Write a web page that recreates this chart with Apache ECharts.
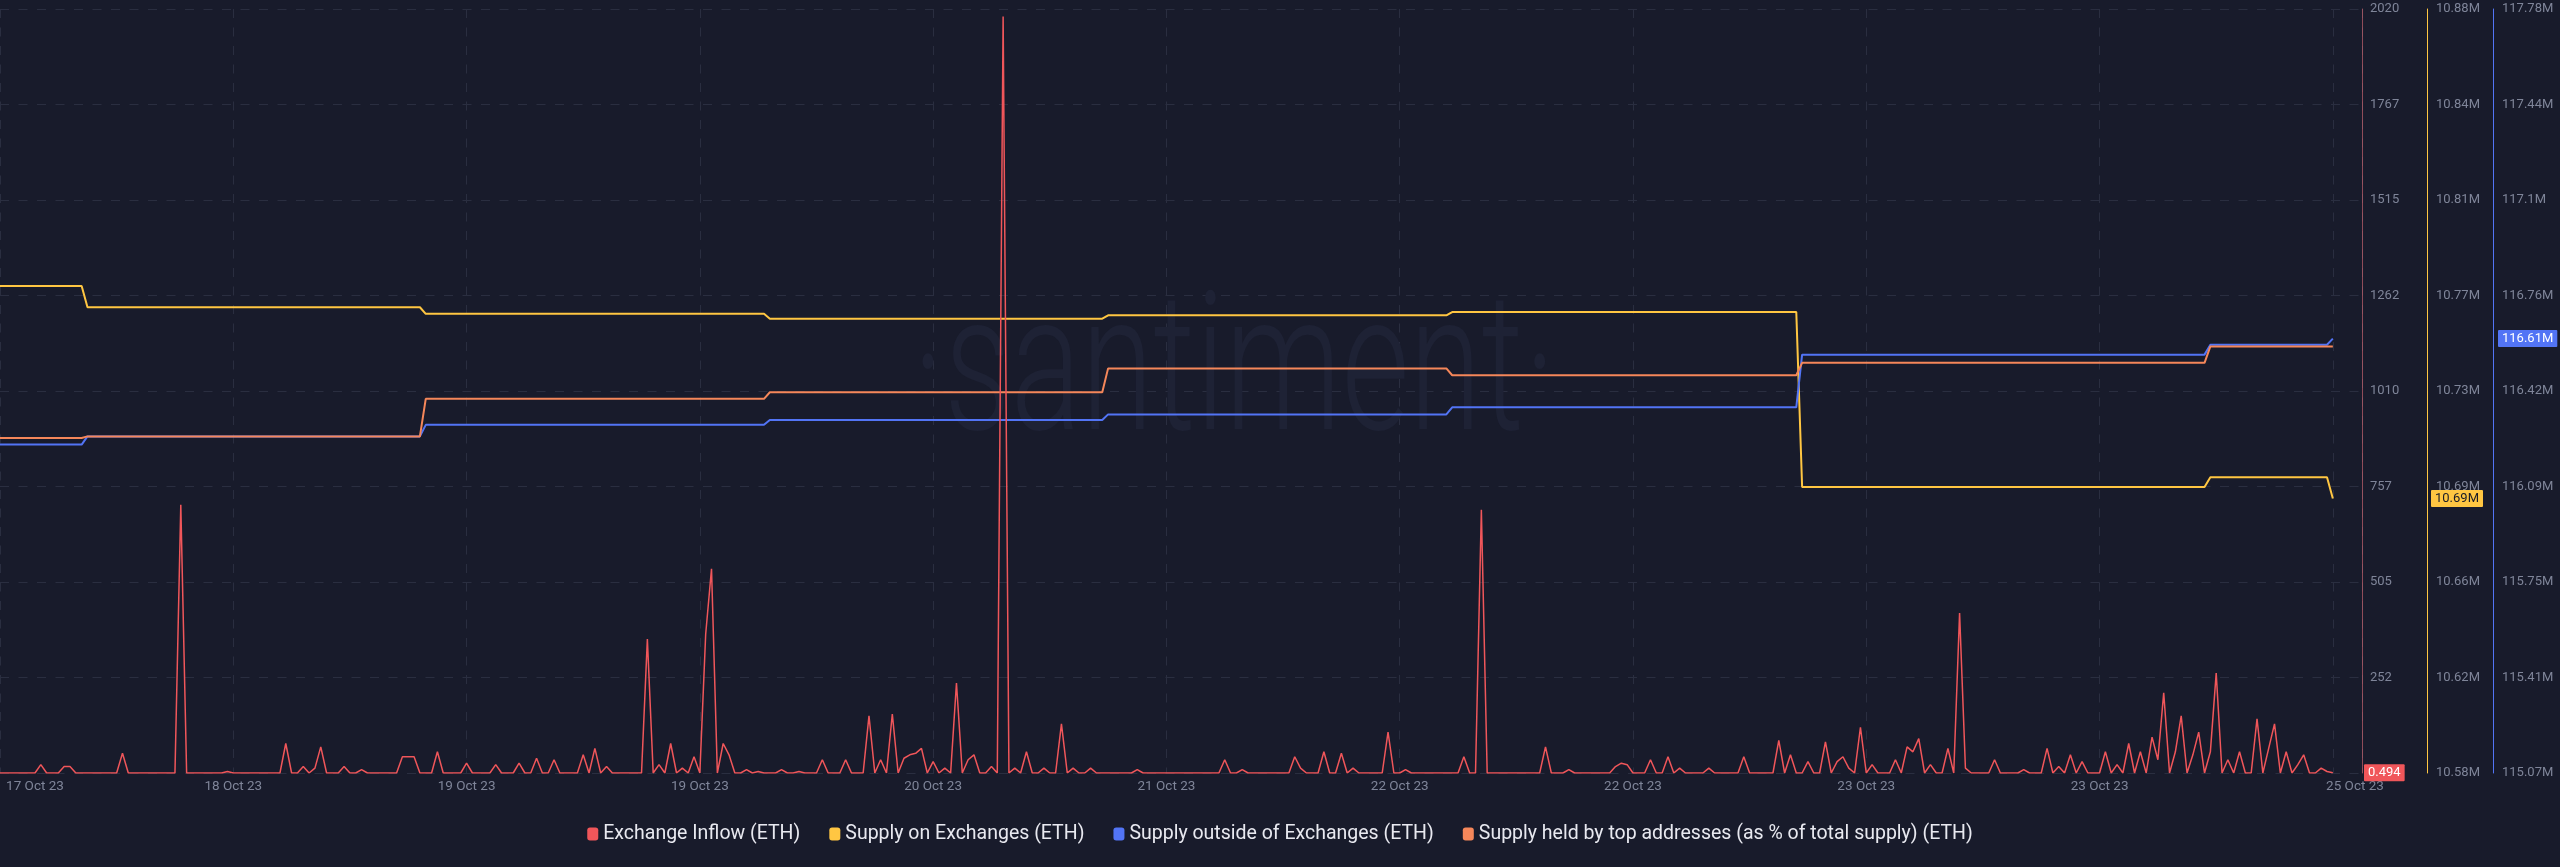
<!DOCTYPE html>
<html><head><meta charset="utf-8">
<script src="https://cdn.jsdelivr.net/npm/echarts@6/dist/echarts.min.js"></script>
<style>html,body{margin:0;padding:0;background:#181b2b;}#c{width:2560px;height:867px;}</style>
</head><body><div id="c"></div>
<script>
// x tick labels (Santiment style, 10 equal intervals)
const xTickLabels = ['17 Oct 23','18 Oct 23','19 Oct 23','19 Oct 23','20 Oct 23','21 Oct 23','22 Oct 23','22 Oct 23','23 Oct 23','23 Oct 23','25 Oct 23'];

const seriesNames = ['Exchange Inflow (ETH)','Supply on Exchanges (ETH)','Supply outside of Exchanges (ETH)','Supply held by top addresses (as % of total supply) (ETH)'];

// Exchange Inflow (ETH), one value per time step (index 0..400)
const exchangeInflow = [
0,0,0,0,0,0,0,22,0,0,0,17,17,0,0,0,0,0,0,0,
0,52,0,0,0,0,0,0,0,0,0,709,0,0,0,0,0,0,0,4,
0,0,0,0,0,0,0,0,0,78,0,0,17,0,13,69,0,0,0,17,
0,0,9,0,0,0,0,0,0,43,43,43,0,0,0,56,0,0,0,0,
26,0,0,0,0,22,0,0,0,26,0,0,39,0,0,35,0,0,0,0,
48,0,65,0,17,0,0,0,0,0,0,354,0,22,0,78,0,13,0,43,
0,367,540,0,78,48,0,0,9,0,4,0,0,0,9,0,0,4,0,0,
0,35,0,0,0,35,0,0,0,151,0,35,0,156,0,39,48,52,65,0,
30,0,13,0,238,0,35,48,0,0,17,0,2000,0,13,0,56,0,0,13,
0,0,130,0,13,0,0,13,0,0,0,0,0,0,0,9,0,0,0,0,
0,0,0,0,0,0,0,0,0,0,35,0,0,9,0,0,0,0,0,0,
0,0,43,13,0,0,0,56,0,0,52,0,13,0,0,0,0,0,108,0,
0,9,0,0,0,0,0,0,0,0,0,43,0,0,696,0,0,0,0,0,
0,0,0,0,0,69,0,0,0,9,0,0,0,0,0,0,0,17,26,22,
0,0,0,35,0,0,43,0,13,0,0,0,0,13,0,0,0,0,0,43,
0,0,0,0,0,86,0,48,0,0,30,0,0,82,0,30,43,13,0,121,
0,22,0,0,0,35,0,69,56,91,0,22,0,0,65,0,423,13,0,0,
0,0,35,0,0,0,0,9,0,0,0,65,0,17,0,48,0,30,0,0,
0,56,0,22,0,78,0,56,0,95,35,212,0,56,151,0,48,108,0,56,
264,0,35,0,56,0,0,143,0,65,130,0,56,0,22,48,0,0,13,4,
0.494
];

// Step series, corner points [time index, value]
const supplyOnExchanges = [[0,10771200],[14,10771200],[15,10762900],[72,10762900],[73,10760300],[131,10760300],[132,10758400],[189,10758400],[190,10759700],[248,10759700],[249,10761000],[308,10761000],[309,10692300],[378,10692300],[379,10696100],[399,10696100],[400,10687800]];
const supplyOutsideExchanges = [[0,116234000],[14,116234000],[15,116263000],[72,116263000],[73,116304000],[131,116304000],[132,116321000],[189,116321000],[190,116341000],[248,116341000],[249,116366000],[308,116366000],[309,116553000],[378,116553000],[379,116588000],[399,116588000],[400,116610000]];
const topHoldersPct = [[0,38.9385],[14,38.9385],[15,38.9406],[72,38.9406],[73,38.9898],[131,38.9898],[132,38.9984],[189,38.9984],[190,39.0296],[248,39.0296],[249,39.0206],[308,39.0206],[309,39.0369],[378,39.0369],[379,39.0583],[400,39.0583]];

const C = {red:'#f0565a', yellow:'#ffc642', blue:'#5274f5', orange:'#f5875a', label:'#7f8599', grid:'#2a2e40', bg:'#181b2b'};
const fmtM = v => parseFloat((Math.round(v/1e4)/100).toFixed(2)) + 'M';
const lastVal = a => a[a.length-1][1];

const chart = echarts.init(document.getElementById('c'), null, {renderer:'canvas'});
const step = 40;
const xLabelPos = xTickLabels.map((_, i) => i*step);
xLabelPos[0] = 6; xLabelPos[xLabelPos.length-1] = 403.8;

const option = {
  backgroundColor: C.bg,
  animation:false,
  textStyle:{fontFamily:'Roboto'},
  grid:{left:0, right:198, top:9, bottom:94, containLabel:false},
  legend:{bottom:18, left:'center', itemWidth:11, itemHeight:13, itemGap:29, icon:'roundRect',
    textStyle:{color:'#e8e9f0', fontSize:19.5, fontFamily:'Roboto'}, data:seriesNames},
  xAxis:{type:'value', min:0, max:405, interval:step,
    axisLine:{show:false, onZero:false}, axisTick:{show:false},
    splitLine:{show:true, lineStyle:{color:C.grid, type:[9,9.5], width:1}},
    axisLabel:{customValues:xLabelPos, color:C.label, fontSize:13.5, margin:7,
      formatter: v => xTickLabels[Math.round(v/step)]}},
  yAxis:[
    {type:'value', position:'right', offset:0, min:0, max:2020, interval:252.5,
      axisLine:{show:true, onZero:false, lineStyle:{color:'rgba(224,110,120,0.6)'}}, axisTick:{show:false},
      splitLine:{show:true, lineStyle:{color:C.grid, type:[9,9.5]}},
      axisLabel:{color:C.label, fontSize:13, margin:8, formatter: v => String(Math.floor(v))}},
    {type:'value', position:'right', offset:65, min:10580000, max:10880000, interval:37500,
      axisLine:{show:true, onZero:false, lineStyle:{color:C.yellow}}, axisTick:{show:false}, splitLine:{show:false},
      axisLabel:{color:C.label, fontSize:13, margin:9, formatter: fmtM}},
    {type:'value', position:'right', offset:131, min:115069000, max:117779000, interval:338750,
      axisLine:{show:true, onZero:false, lineStyle:{color:C.blue}}, axisTick:{show:false}, splitLine:{show:false},
      axisLabel:{color:C.label, fontSize:13, margin:9, formatter: fmtM}},
    {type:'value', show:false, min:38.5, max:39.5, axisLine:{onZero:false}}
  ],
  series:[
    {name:seriesNames[0], type:'line', yAxisIndex:0, showSymbol:false, color:C.red, z:4,
      lineStyle:{width:1.5, color:C.red}, data: exchangeInflow.map((v,i)=>[i,v])},
    {name:seriesNames[1], type:'line', yAxisIndex:1, showSymbol:false, color:C.yellow, z:3,
      lineStyle:{width:2, color:C.yellow}, data: supplyOnExchanges},
    {name:seriesNames[2], type:'line', yAxisIndex:2, showSymbol:false, color:C.blue, z:3,
      lineStyle:{width:2, color:C.blue}, data: supplyOutsideExchanges},
    {name:seriesNames[3], type:'line', yAxisIndex:3, showSymbol:false, color:C.orange, z:3,
      lineStyle:{width:2, color:C.orange}, data: topHoldersPct}
  ]
};
chart.setOption(option);

// last-value badges on the right axes, placed through the axes' own scales
const gridRight = chart.convertToPixel({xAxisIndex:0}, 405);
function badge(text, axisIdx, value, bg, fg, dx){
  return {type:'text', x: gridRight + dx, y: chart.convertToPixel({yAxisIndex:axisIdx}, value), z:100, silent:true,
    style:{text:text, font:'13px Roboto', fill:fg, backgroundColor:bg, padding:[2,4,2,4], borderRadius:1,
      align:'left', verticalAlign:'middle'}};
}
const inflowLast = exchangeInflow[exchangeInflow.length-1];
chart.setOption({graphic:[
  {type:'text', x:1234, y:381, scaleX:0.68, z:0, silent:true,
    style:{text:'·santiment·', font:'300 193px Roboto', fill:'#1e2235', align:'center', verticalAlign:'middle'}},
  badge(String(inflowLast), 0, inflowLast, C.red, '#ffffff', 2),
  badge(fmtM(lastVal(supplyOnExchanges)), 1, lastVal(supplyOnExchanges), C.yellow, '#1a1c28', 69),
  badge(fmtM(lastVal(supplyOutsideExchanges)), 2, lastVal(supplyOutsideExchanges), C.blue, '#ffffff', 136)
]});
</script></body></html>
